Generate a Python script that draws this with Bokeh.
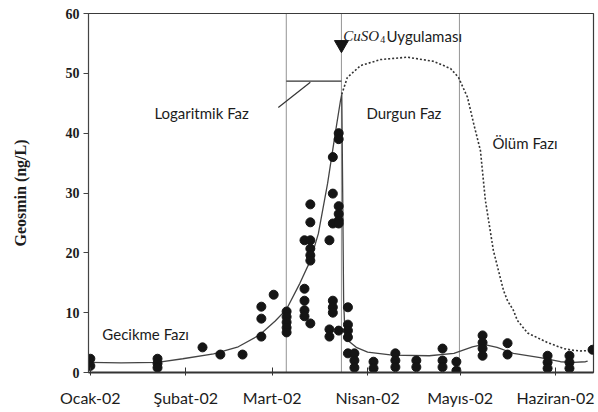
from bokeh.plotting import figure
from bokeh.models import Label, Range1d, FixedTicker
from bokeh.embed import file_html
from bokeh.resources import INLINE

# ---- axis ticks ----
month_days = [0, 31, 59, 90, 120, 151]
month_labels = ["Ocak-02", "Şubat-02", "Mart-02", "Nisan-02", "Mayıs-02", "Haziran-02"]
y_ticks = [0, 10, 20, 30, 40, 50, 60]

# ---- observed geosmin (day of 2002, ng/L) ----
obs_day = [0, 0,
           21.8, 21.8, 21.8,
           36.4, 42.2, 49.4,
           55.5, 55.5, 55.5, 59.5,
           63.7, 63.7, 63.7, 63.7, 63.7,
           69.5, 69.5, 69.5, 69.5, 69.5,
           71.4, 71.4, 71.4, 71.4, 71.4, 71.4, 71.4,
           77.6, 77.6, 77.6,
           78.7, 78.7, 78.7, 78.7, 78.7, 78.7,
           80.6, 80.6, 80.6, 80.6, 80.6, 80.6, 80.6,
           83.6, 83.6, 83.6, 83.6, 83.6,
           85.7, 85.7, 85.7,
           91.9, 91.9,
           99.0, 99.0, 99.0,
           105.8, 105.8,
           114.3, 114.3, 114.3,
           118.8, 118.8,
           127.3, 127.3, 127.3, 127.3,
           135.4, 135.4,
           148.4, 148.4, 148.4,
           155.5, 155.5, 155.5,
           163.0]
obs_geosmin = [2.3, 1.1,
               2.3, 1.5, 0.8,
               4.2, 3.0, 3.0,
               11.0, 9.0, 6.0, 13.0,
               10.2, 9.3, 8.4, 7.5, 6.7,
               22.1, 14.0, 12.0, 10.4, 9.4,
               28.1, 25.1, 22.1, 20.7, 19.6, 18.7, 8.2,
               22.1, 7.2, 6.0,
               36.0, 29.9, 24.9, 12.0, 10.9, 10.0,
               40.0, 39.0, 27.8, 26.5, 25.4, 24.9, 7.0,
               10.9, 8.0, 7.0, 5.9, 3.2,
               3.2, 2.0, 0.8,
               1.8, 0.7,
               3.2, 2.0, 0.9,
               2.0, 0.9,
               4.0, 2.0, 0.9,
               1.8, 0.3,
               6.2, 5.0, 4.0, 2.8,
               4.9, 3.0,
               2.8, 1.7, 0.7,
               2.8, 1.7, 0.7,
               3.8]

# ---- fitted growth curve (solid) ----
fit_day = [-0.5, 10, 21.8, 30, 40, 48, 55, 60, 63.7, 68, 71.4, 74, 77, 79.5, 81.2, 81.6,
           81.9, 82.2, 82.6, 84, 86.3, 90, 98, 110, 118, 124, 127.6, 132, 137.3, 146, 152.6,
           156.8, 160.7, 161.4]
fit_geosmin = [1.7, 1.6, 1.7, 2.3, 3.1, 4.3, 6.3, 8.6, 10.6, 14.9, 18.7, 23.2, 31.6, 40.0, 45.5, 46.5,
               30.0, 12.0, 7.0, 5.2, 4.2, 3.4, 2.9, 2.8, 3.2, 4.3, 4.7, 4.2, 3.2, 2.5, 1.8,
               1.7, 1.8, 1.9]

# ---- expected curve without CuSO4 (dotted) ----
nocu_day = [81.6, 83.4, 87.7, 94.2, 102.9, 111.4, 116.9, 119.5, 122.4, 124.4, 126.6, 128.2,
            130.8, 134.1, 135.4, 137.3, 138.6, 141.9, 148.4, 153.6, 156.8, 159.1, 163.3]
nocu_geosmin = [46.5, 49.3, 51.3, 52.3, 52.7, 52.0, 50.8, 49.3, 46.0, 41.6, 37.1, 28.8,
                20.4, 13.7, 12.0, 10.4, 8.7, 6.6, 5.0, 4.0, 3.7, 3.6, 3.7]

# ---- phase boundaries / annotations ----
phase_bounds = [63.6, 81.5, 119.8]
cuso4_day = 81.5
log_bracket = [63.6, 81.5, 48.7]
pointer = [61.0, 44.3, 71.4, 48.5]

FONT = "Lato"
INK = "#1c1c1c"

p = figure(width=598, height=412, output_backend="svg", toolbar_location=None,
           x_range=Range1d(-0.6, 163.3), y_range=Range1d(0, 60),
           min_border_left=88, min_border_right=5, min_border_top=13, min_border_bottom=40)
p.background_fill_color = "white"
p.border_fill_color = "white"
p.outline_line_color = "#3a3a3a"
p.outline_line_width = 1.2
p.xgrid.visible = False
p.ygrid.visible = False

# axes
p.xaxis.ticker = FixedTicker(ticks=month_days)
p.xaxis.major_label_overrides = {d: l for d, l in zip(month_days, month_labels)}
p.xaxis.major_label_text_font = FONT
p.xaxis.major_label_text_font_size = "16px"
p.xaxis.major_label_text_color = INK
p.xaxis.major_tick_in = 5
p.xaxis.major_tick_out = 3
p.xaxis.minor_tick_line_color = None
p.xaxis.major_label_standoff = 12
p.xaxis.axis_line_width = 1.8
p.xaxis.axis_line_color = "#333333"
p.xaxis.major_tick_line_color = "#333333"

p.yaxis.ticker = FixedTicker(ticks=y_ticks)
p.yaxis.major_label_text_font = "Liberation Serif"
p.yaxis.major_label_text_font_style = "bold"
p.yaxis.major_label_text_font_size = "14px"
p.yaxis.major_label_text_color = INK
p.yaxis.major_tick_in = 0
p.yaxis.major_tick_out = 5
p.yaxis.minor_tick_line_color = None
p.yaxis.major_label_standoff = 4
p.yaxis.axis_line_color = "#444444"
p.yaxis.major_tick_line_color = "#444444"
p.yaxis.axis_label = "Geosmin (ng/L)"
p.yaxis.axis_label_text_font = "Liberation Serif"
p.yaxis.axis_label_text_font_style = "bold"
p.yaxis.axis_label_text_font_size = "16px"
p.yaxis.axis_label_text_color = INK
p.yaxis.axis_label_standoff = 34

# phase boundary lines
p.segment(x0=phase_bounds, y0=[0] * 3, x1=phase_bounds, y1=[60] * 3,
          line_color="#3c3c3c", line_width=1.1, line_dash="1 1")
# logarithmic phase bracket & pointer
p.segment(x0=[log_bracket[0]], y0=[log_bracket[2]], x1=[log_bracket[1]], y1=[log_bracket[2]],
          line_color="#333333", line_width=1.2)
p.segment(x0=[pointer[0]], y0=[pointer[1]], x1=[pointer[2]], y1=[pointer[3]],
          line_color="#333333", line_width=1.2)

# curves
p.line(nocu_day, nocu_geosmin, line_color="#333333", line_width=1.6, line_dash="2 2")
p.line(fit_day, fit_geosmin, line_color="#444444", line_width=1.3)

# observations
p.scatter(obs_day, obs_geosmin, size=9, fill_color="#151515", line_color="#151515")

# CuSO4 marker
p.scatter([cuso4_day], [54.8], marker="inverted_triangle", size=14,
          fill_color="#151515", line_color="#151515")

def lab(x, y, text, size="15px", font=FONT, style="normal", baseline="middle"):
    p.add_layout(Label(x=x, y=y, text=text, text_font=font, text_font_size=size,
                       text_font_style=style, text_color=INK, text_align="left",
                       text_baseline=baseline))

lab(20.8, 43.3, "Logaritmik Faz")
lab(89.6, 43.3, "Durgun Faz")
lab(130.5, 38.3, "Ölüm Fazı")
lab(3.9, 6.5, "Gecikme Fazı")
lab(82.1, 56.2, "CuSO", size="15px", font="Liberation Serif", style="italic", baseline="alphabetic")
lab(94.1, 55.6, "4", size="10px", font="Liberation Serif", baseline="alphabetic")
lab(96.1, 56.2, "Uygulaması", size="15px", baseline="alphabetic")

open("out.html", "w").write(file_html(p, INLINE))
